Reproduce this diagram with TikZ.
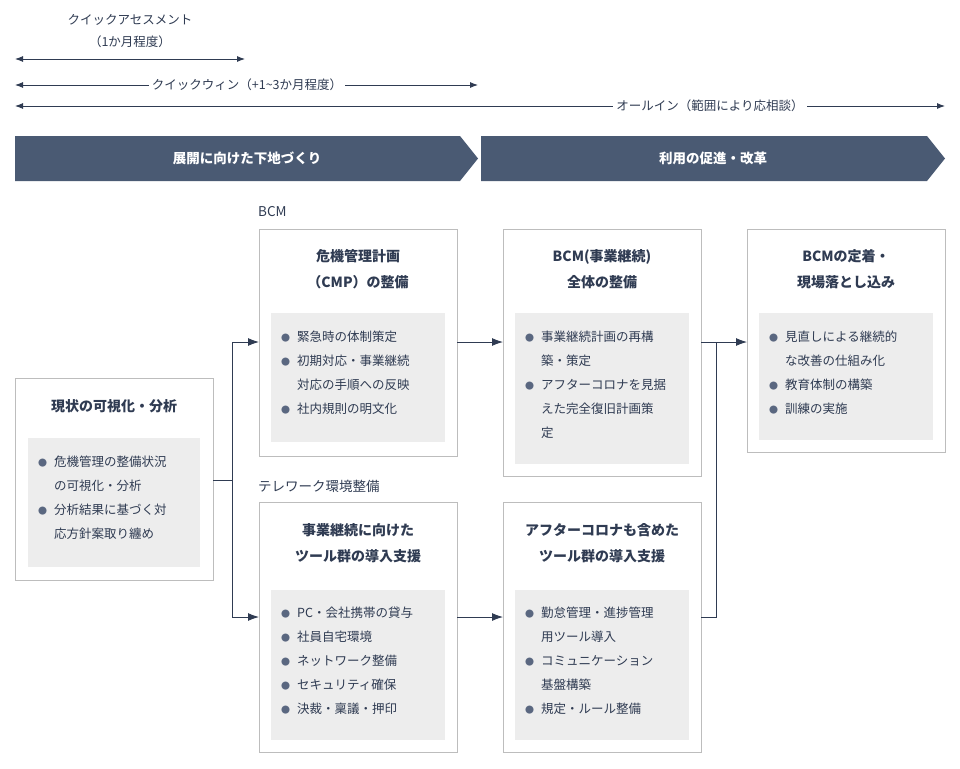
\documentclass[tikz,border=0pt]{standalone}
\usepackage{fontspec}
\setmainfont{Noto Sans CJK JP}
\usetikzlibrary{arrows.meta,positioning}
\definecolor{navy}{HTML}{2F3B52}
\definecolor{band}{HTML}{4A5A73}
\definecolor{pane}{HTML}{EDEDED}
\definecolor{frame}{HTML}{BDBDBD}
\definecolor{dot}{HTML}{5A6780}
\newcommand{\itm}{\makebox[16pt][l]{\textcolor{dot}{\small●}}}
\newcommand{\cnt}{\hspace*{16pt}}
\begin{document}
\begin{tikzpicture}[x=1pt,y=-1pt, font=\fontsize{12.5}{24}\selectfont, text=navy,
    box/.style={draw=frame, line width=0.8pt, fill=white},
    pane/.style={fill=pane},
    title/.style={font=\fontsize{14}{26}\selectfont\bfseries, align=center, anchor=north},
    items/.style={align=left, anchor=north west, inner sep=0pt},
    span/.style={{Latex[length=8pt,width=6pt]}-{Latex[length=8pt,width=6pt]}, navy, line width=0.9pt},
    flow/.style={-{Latex[length=11pt,width=8pt]}, navy, line width=0.9pt},
    link/.style={navy, line width=0.9pt}]
  \useasboundingbox (0,0) rectangle (960,768);
  % spans
  \node (qa) at (130,31) [align=center, font=\fontsize{12.5}{22}\selectfont] {クイックアセスメント\\（1か月程度）};
  \coordinate (qaL) at (15,59); \coordinate (qaR) at (245,59);
  \draw[span] (qaL) -- (qaR);
  \coordinate (qwL) at (15,85); \coordinate (qwR) at (478,85);
  \draw[span] (qwL) -- (qwR);
  \node (qw) at (247,85) [fill=white, font=\fontsize{12.5}{14}\selectfont] {クイックウィン（+1\textasciitilde 3か月程度）};
  \coordinate (oaL) at (15,106); \coordinate (oaR) at (945,106);
  \draw[span] (oaL) -- (oaR);
  \node (oa) at (710,106) [fill=white, font=\fontsize{12.5}{14}\selectfont] {オールイン（範囲により応相談）};
  % bands
  \fill[band] (15,136) -- (460,136) -- (478,158.5) -- (460,181) -- (15,181) -- cycle;
  \fill[band] (481,136) -- (927,136) -- (945,158.5) -- (927,181) -- (481,181) -- cycle;
  \node (b1) at (247,158.5) [text=white, font=\fontsize{13.5}{16}\selectfont\bfseries] {展開に向けた下地づくり};
  \node (b2) at (713,158.5) [text=white, font=\fontsize{13.5}{16}\selectfont\bfseries] {利用の促進・改革};
  % group labels
  \node (gBCM) at (258,212) [anchor=west, inner sep=0pt, font=\fontsize{13.5}{16}\selectfont] {BCM};
  \node (gTW) at (258,486) [anchor=west, inner sep=0pt, font=\fontsize{13.5}{16}\selectfont] {テレワーク環境整備};
  % boxes
  \draw[box] (15,378) rectangle (213,580);
  \fill[pane] (28,438) rectangle (200,567);
  \node (t1) at (114,396) [title] {現状の可視化・分析};
  \node (i1) at (38,456) [items] {\itm 危機管理の整備状況\\\cnt の可視化・分析\\\itm 分析結果に基づく対\\\cnt 応方針案取り纏め};

  \draw[box] (259,229) rectangle (457,456);
  \fill[pane] (271,313) rectangle (445,442);
  \node (t2) at (358,246) [title] {危機管理計画\\（CMP）の整備};
  \node (i2) at (281,331) [items] {\itm 緊急時の体制策定\\\itm 初期対応・事業継続\\\cnt 対応の手順への反映\\\itm 社内規則の明文化};

  \draw[box] (503,229) rectangle (701,476);
  \fill[pane] (515,313) rectangle (689,464);
  \node (t3) at (602,246) [title] {BCM(事業継続)\\全体の整備};
  \node (i3) at (525,331) [items] {\itm 事業継続計画の再構\\\cnt 築・策定\\\itm アフターコロナを見据\\\cnt えた完全復旧計画策\\\cnt 定};

  \draw[box] (747,229) rectangle (945,452);
  \fill[pane] (759,313) rectangle (933,440);
  \node (t4) at (846,246) [title] {BCMの定着・\\現場落とし込み};
  \node (i4) at (769,331) [items] {\itm 見直しによる継続的\\\cnt な改善の仕組み化\\\itm 教育体制の構築\\\itm 訓練の実施};

  \draw[box] (259,502) rectangle (457,752);
  \fill[pane] (271,590) rectangle (445,740);
  \node (t5) at (358,520) [title] {事業継続に向けた\\ツール群の導入支援};
  \node (i5) at (281,607) [items] {\itm PC・会社携帯の貸与\\\itm 社員自宅環境\\\itm ネットワーク整備\\\itm セキュリティ確保\\\itm 決裁・稟議・押印};

  \draw[box] (503,502) rectangle (701,752);
  \fill[pane] (515,590) rectangle (689,740);
  \node (t6) at (602,520) [title] {アフターコロナも含めた\\ツール群の導入支援};
  \node (i6) at (525,607) [items] {\itm 勤怠管理・進捗管理\\\cnt 用ツール導入\\\itm コミュニケーション\\\cnt 基盤構築\\\itm 規定・ルール整備};
  % connectors
  \coordinate (s1) at (213,480); \coordinate (j1) at (232,480);
  \coordinate (j1a) at (232,342); \coordinate (j1b) at (232,617);
  \coordinate (in2) at (259,342); \coordinate (in5) at (259,617);
  \draw[link] (s1) -- (j1);
  \draw[flow] (j1) -- (j1a) -- (in2);
  \draw[flow] (j1) -- (j1b) -- (in5);
  \coordinate (o2) at (457,342); \coordinate (in3) at (503,342);
  \coordinate (o5) at (457,617); \coordinate (in6) at (503,617);
  \draw[flow] (o2) -- (in3);
  \draw[flow] (o5) -- (in6);
  \coordinate (o3) at (701,342); \coordinate (in4) at (747,342);
  \coordinate (o6) at (701,617); \coordinate (j2) at (716,617); \coordinate (j2a) at (716,342);
  \draw[flow] (o3) -- (in4);
  \draw[link] (o6) -- (j2) -- (j2a);
\end{tikzpicture}
\end{document}
